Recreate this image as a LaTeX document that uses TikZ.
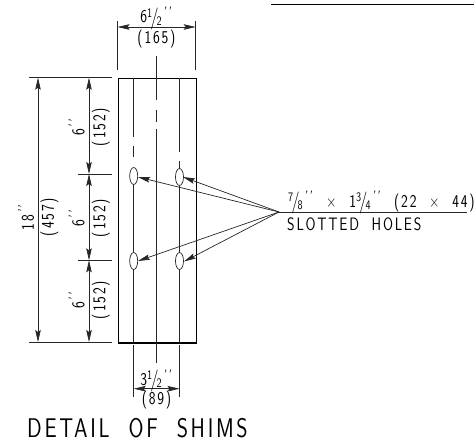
\documentclass[tikz,border=0pt]{standalone}
\usepackage{fontspec}
\setsansfont[LetterSpace=10,FakeStretch=.8,WordSpace=2]{Latin Modern Sans}
\usetikzlibrary{arrows.meta,shapes.geometric}
\newcommand{\qq}{\raisebox{.3em}[0pt][0pt]{\fontsize{15}{15}\selectfont\kern1pt\textit{’’}}}
\newcommand{\sfrac}[2]{\raisebox{.32em}[0pt][0pt]{\fontsize{13}{13}\selectfont #1}\kern-2pt\smash{\fontsize{22}{22}\selectfont\raisebox{-.05em}{/}}\kern-2pt\raisebox{-.12em}[0pt][0pt]{\fontsize{13}{13}\selectfont #2}}
\tikzset{
 cad/.style={font=\sffamily\fontsize{18}{18}\selectfont,inner sep=0pt,text=black},
 big/.style={font=\sffamily\fontsize{27}{27}\selectfont,inner sep=0pt,text=black},
 thin line/.style={line width=.7pt,draw=black!85},
 heavy/.style={line width=1.6pt,draw=black},
 dim/.style={thin line,{Stealth[length=12pt,width=5.5pt,inset=2pt]}-{Stealth[length=12pt,width=5.5pt,inset=2pt]}},
 tip/.style={thin line,-{Stealth[length=12pt,width=5.5pt,inset=2pt]}},
 hole/.style={ellipse,draw=black!85,line width=.7pt,fill=none,minimum width=8pt,minimum height=17pt,inner sep=0pt},
}
\begin{document}
\begin{tikzpicture}[x=1pt,y=-1pt]
\useasboundingbox (0,0) rectangle (474,442);
% top right rule
\coordinate (ra) at (271,4.5); \coordinate (rb) at (474,4.5);
\draw[heavy] (ra) -- (rb);
% shim
\node[draw=black,line width=1.5pt,minimum width=78.2pt,minimum height=264.3pt,inner sep=0pt,anchor=north west] (shim) at (117.5,77.7) {};
% holes
\node[hole] (h1) at (133.7,176) {};
\node[hole] (h2) at (179.5,177) {};
\node[hole] (h3) at (133.7,261) {};
\node[hole] (h4) at (179.5,261) {};
% centre and gauge lines
\draw[thin line] (133.7,77.7) -- (133.7,137) (133.7,146) -- (133.7,157);
\draw[thin line] (h1.south) -- (h3.north) (h3.south) -- (133.7,342);
\draw[thin line] (179.5,77.7) -- (179.5,152) (179.5,161) -- (h2.north);
\draw[thin line] (h2.south) -- (h4.north) (h4.south) -- (179.5,342);
\draw[thin line] (156.5,56) -- (156.5,100) (156.5,110) -- (156.5,122) (156.5,129) -- (156.5,362.5);
% top dimension
\coordinate (t1) at (117.5,27); \coordinate (t2) at (195.7,27);
\draw[thin line] (117.5,21) -- (117.5,70) (195.7,21) -- (195.7,70);
\draw[dim] (t1) -- (t2);
\node[cad] (tt) at (156.5,17) {6\sfrac{1}{2}\qq};
\node[cad] (tb) at (156.5,39) {(165)};
% bottom dimension
\coordinate (b1) at (133.7,388.7); \coordinate (b2) at (179.5,388.7);
\draw[thin line] (133.7,345) -- (133.7,397) (179.5,345) -- (179.5,397);
\draw[dim] (b1) -- (b2);
\node[cad] (bt) at (156.5,379.5) {3\sfrac{1}{2}\qq};
\node[cad] (bb) at (156.5,400.5) {(89)};
% left extension lines
\draw[thin line] (29,77.7) -- (112,77.7) (29,342) -- (112,342);
\draw[thin line] (78,174) -- (112,174) (78,260.3) -- (112,260.3);
% 18 inch dimension
\coordinate (l1) at (38,77.7); \coordinate (l2) at (38,342);
\draw[dim] (l1) -- (l2);
\node[cad,rotate=90] (l18) at (28,217) {18\qq};
\node[cad,rotate=90] (l457) at (49.5,217) {(457)};
% 6 inch dimensions
\coordinate (m0) at (89,77.7); \coordinate (m1) at (89,174); \coordinate (m2) at (89,260.3); \coordinate (m3) at (89,342);
\draw[dim] (m0) -- (m1);
\draw[dim] (m1) -- (m2);
\draw[dim] (m2) -- (m3);
\node[cad,rotate=90] (s1) at (78.5,127) {6\qq};
\node[cad,rotate=90] (s1m) at (101,127) {(152)};
\node[cad,rotate=90] (s2) at (78.5,218) {6\qq};
\node[cad,rotate=90] (s2m) at (101,218) {(152)};
\node[cad,rotate=90] (s3) at (78.5,300) {6\qq};
\node[cad,rotate=90] (s3m) at (101,300) {(152)};
% leaders
\coordinate (lead) at (279,212); \coordinate (lend) at (467,212);
\draw[thin line,line width=.9pt] (lead) -- (lend);
\draw[tip] (lead) -- (138,177);
\draw[tip] (lead) -- (183,177);
\draw[tip] (lead) -- (138,261);
\draw[tip] (lead) -- (184,261.5);
\node[cad,anchor=base west] (n1) at (288,207) {\sfrac{7}{8}\qq{} × 1\sfrac{3}{4}\qq{} (22 × 44)};
\node[cad,anchor=base west] (n2) at (287,230) {SLOTTED HOLES};
\node[big,anchor=base west] (ttl) at (27,437) {DETAIL OF SHIMS};
\end{tikzpicture}
\end{document}
